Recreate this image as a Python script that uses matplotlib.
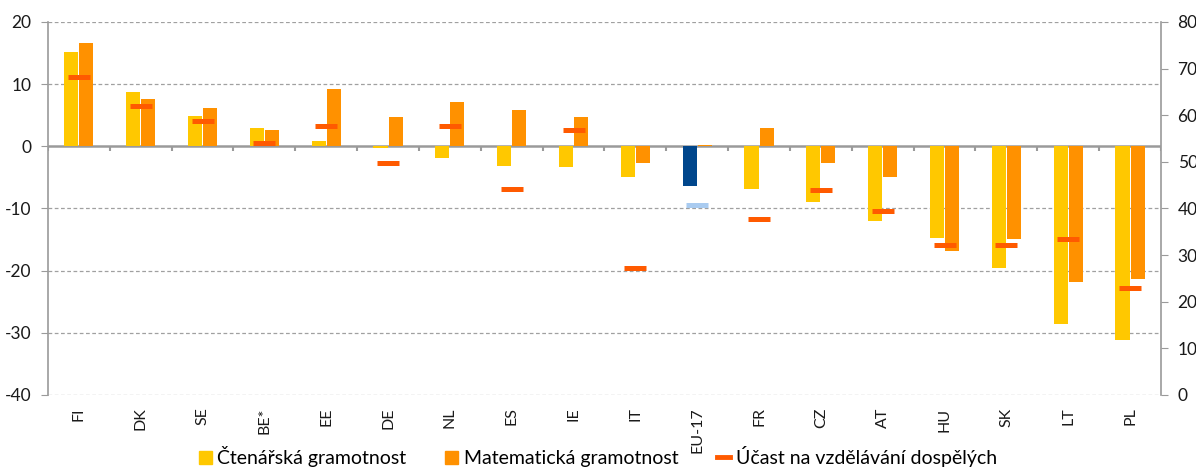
import matplotlib
matplotlib.use("Agg")
import matplotlib.pyplot as plt
from matplotlib.patches import Patch
from matplotlib.lines import Line2D
import numpy as np

categories = ["FI", "DK", "SE", "BE*", "EE", "DE", "NL", "ES", "IE", "IT",
              "EU-17", "FR", "CZ", "AT", "HU", "SK", "LT", "PL"]
reading = [15.1, 8.7, 4.8, 2.9, 0.8, -0.2, -1.9, -3.1, -3.4, -5.0,
           -6.4, -6.9, -9.0, -12.0, -14.7, -19.6, -28.6, -31.2]
numeracy = [16.6, 7.6, 6.1, 2.6, 9.2, 4.7, 7.2, 5.8, 4.7, -2.7,
            0.2, 2.9, -2.7, -5.0, -16.8, -14.9, -21.8, -21.3]
adult_edu = [68.1, 61.9, 58.7, 54.0, 57.8, 49.7, 57.8, 44.1, 56.8, 27.2,
             40.7, 37.7, 43.9, 39.4, 32.1, 32.1, 33.4, 22.9]
left_ticks = [20, 10, 0, -10, -20, -30, -40]
right_ticks = [80, 70, 60, 50, 40, 30, 20, 10, 0]
labels = ["Čtenářská gramotnost", "Matematická gramotnost", "Účast na vzdělávání dospělých"]

YEL = "#FFC800"
ORA = "#FF9100"
RED = "#FF5A00"
BLUE = "#00468C"
LBLUE = "#A9CBF0"
GRAY = "#9A9A9A"

plt.rcParams['font.family'] = ['Lato', 'DejaVu Sans']
plt.rcParams['axes.unicode_minus'] = False

fig = plt.figure(figsize=(11.96, 4.68), dpi=100)
ax = fig.add_axes([0.0401, 0.156, 0.9306, 0.797])
ax2 = ax.twinx()

x = np.arange(len(categories))
bw = 0.227
off = 0.122
ycols = [BLUE if c == "EU-17" else YEL for c in categories]
ax.bar(x - off, reading, width=bw, color=ycols, zorder=3)
ax.bar(x + off, numeracy, width=bw, color=ORA, zorder=3)

mcols = [LBLUE if c == "EU-17" else RED for c in categories]
ax2.scatter(x, adult_edu, marker="_", s=(22 * 0.72) ** 2, linewidths=3.6,
            color=mcols, zorder=4)

ax.set_xlim(-0.5, len(categories) - 0.5)
ax.set_ylim(-40, 20)
ax2.set_ylim(0, 80)
ax.set_yticks(left_ticks)
ax2.set_yticks(right_ticks)

for t in left_ticks:
    if t != 0:
        ax.axhline(t, color="#A0A0A0", lw=0.9, ls=(0, (3, 2)), zorder=1)
ax.axhline(0, color=GRAY, lw=1.8, zorder=2)
bounds = np.arange(len(categories) + 1) - 0.5
ax.vlines(bounds, -0.7, 0, color=GRAY, lw=1.5, zorder=2)

ax.set_xticks(x)
ax.set_xticklabels(categories, rotation=90, fontsize=11.5, color="#1a1a1a")
ax.tick_params(axis="x", length=0, pad=9)
ax.tick_params(axis="y", length=5, color=GRAY, labelsize=12.5, labelcolor="#1a1a1a", pad=7)
ax2.tick_params(axis="y", length=5, color=GRAY, labelsize=12.5, labelcolor="#1a1a1a", pad=7)

for a in (ax, ax2):
    a.spines["top"].set_visible(False)
    a.spines["bottom"].set_visible(False)
    a.spines["left"].set_color(GRAY)
    a.spines["right"].set_color(GRAY)
    a.spines["left"].set_linewidth(1.2)
    a.spines["right"].set_linewidth(1.2)
ax2.spines["left"].set_visible(False)
ax.spines["right"].set_visible(False)

handles = [Patch(color=YEL), Patch(color=ORA),
           Line2D([0], [0], color=RED, lw=3.5)]
fig.legend(handles, labels, loc="lower center", bbox_to_anchor=(0.5, -0.035),
           ncol=3, frameon=False, fontsize=14, handlelength=0.65, handleheight=0.65,
           handletextpad=0.3, columnspacing=2.0)

fig.savefig("out.png", dpi=100)
